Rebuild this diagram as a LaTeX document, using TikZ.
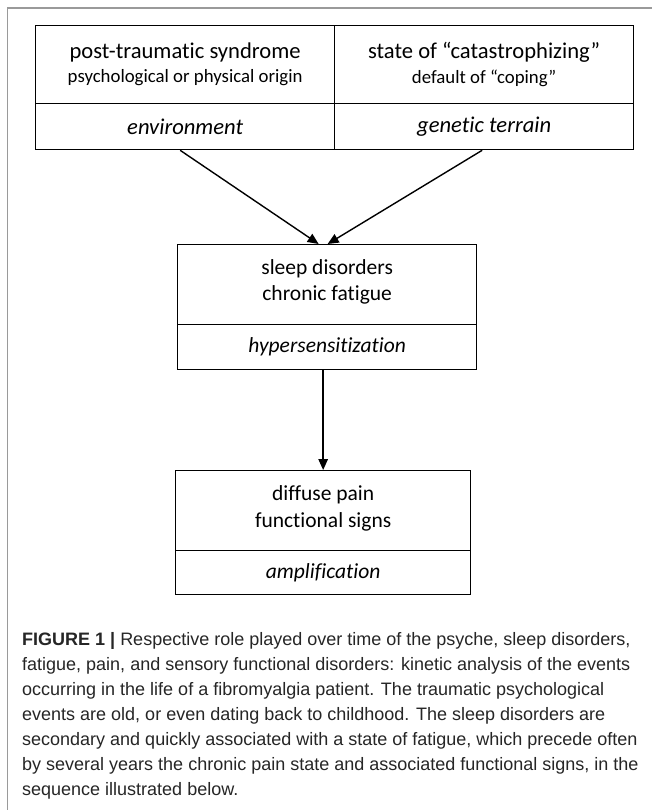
\documentclass[tikz,border=0pt]{standalone}
\usepackage{fontspec}
\setmainfont{Carlito}[Ligatures=NoCommon]
\newfontfamily\capfont{Liberation Sans}
\usetikzlibrary{arrows.meta,calc}
\definecolor{framegray}{HTML}{9A9A9A}
\definecolor{captext}{HTML}{262626}
\newcommand{\lift}[1]{\rule[-#1]{0pt}{0pt}}
\begin{document}
\begin{tikzpicture}[x=1pt,y=-1pt,
  cell/.style={draw=black, line width=1.3pt, inner sep=0pt, align=center, anchor=north west},
  toptxt/.style={font=\fontsize{22.6}{24.5}\selectfont},
  midtxt/.style={font=\fontsize{21.5}{26}\selectfont},
  bottxt/.style={font=\fontsize{21.5}{27}\selectfont},
  arr/.style={line width=1.4pt, -{Triangle[length=11pt,width=9.5pt]}},
  capline/.style={anchor=base west, inner sep=0pt, text=captext, font=\capfont\fontsize{18}{25}\selectfont}
]
\useasboundingbox (0,0) rectangle (652,810);
\fill[white] (0,0) rectangle (652,810);
\draw[framegray, line width=1.2pt] (652,8) -- (7.5,8) -- (7.5,810);

% top table
\node[cell, toptxt, minimum width=299pt, minimum height=78pt] (ptsd) at (35,25)
  {post-traumatic syndrome\\{\fontsize{18.8}{20}\selectfont psychological or physical origin\lift{4pt}}};
\node[cell, toptxt, minimum width=299pt, minimum height=78pt] (cata) at (334,25)
  {state of “catastrophizing”\\{\fontsize{18.8}{20}\selectfont default of “coping”\lift{4pt}}};
\node[cell, toptxt, minimum width=299pt, minimum height=46pt] (env) at (35,103) {\itshape environment};
\node[cell, toptxt, minimum width=299pt, minimum height=46pt] (gen) at (334,103) {\itshape genetic terrain};

% middle box
\node[cell, midtxt, minimum width=299pt, minimum height=80pt] (sleep) at (177,244)
  {sleep disorders\\chronic fatigue\lift{9pt}};
\node[cell, midtxt, minimum width=299pt, minimum height=45pt] (hyper) at (177,324) {\itshape hypersensitization};

% bottom box
\node[cell, bottxt, minimum width=295pt, minimum height=80pt] (diff) at (175,470)
  {diffuse pain\\functional signs\lift{9pt}};
\node[cell, bottxt, minimum width=295pt, minimum height=44pt] (ampl) at (175,550) {\itshape amplification};

% connectors
\draw[arr] ($(env.south)+(-5,0)$) -- ($(sleep.north)+(-8.5,0)$);
\draw[arr] ($(gen.south)+(-2,0)$) -- ($(sleep.north)+(0.5,0)$);
\draw[arr] (diff.north |- hyper.south) -- (diff.north);

% caption
\node[capline] (c1) at (22,645) {\textbf{FIGURE 1 |} Respective role played over time of the psyche, sleep disorders,};
\node[capline] (c2) at (22,670) {fatigue, pain, and sensory functional disorders: kinetic analysis of the events};
\node[capline] (c3) at (22,695) {occurring in the life of a fibromyalgia patient. The traumatic psychological};
\node[capline] (c4) at (22,720) {events are old, or even dating back to childhood. The sleep disorders are};
\node[capline] (c5) at (22,745) {secondary and quickly associated with a state of fatigue, which precede often};
\node[capline] (c6) at (22,770) {by several years the chronic pain state and associated functional signs, in the};
\node[capline] (c7) at (22,795) {sequence illustrated below.};
\end{tikzpicture}
\end{document}
